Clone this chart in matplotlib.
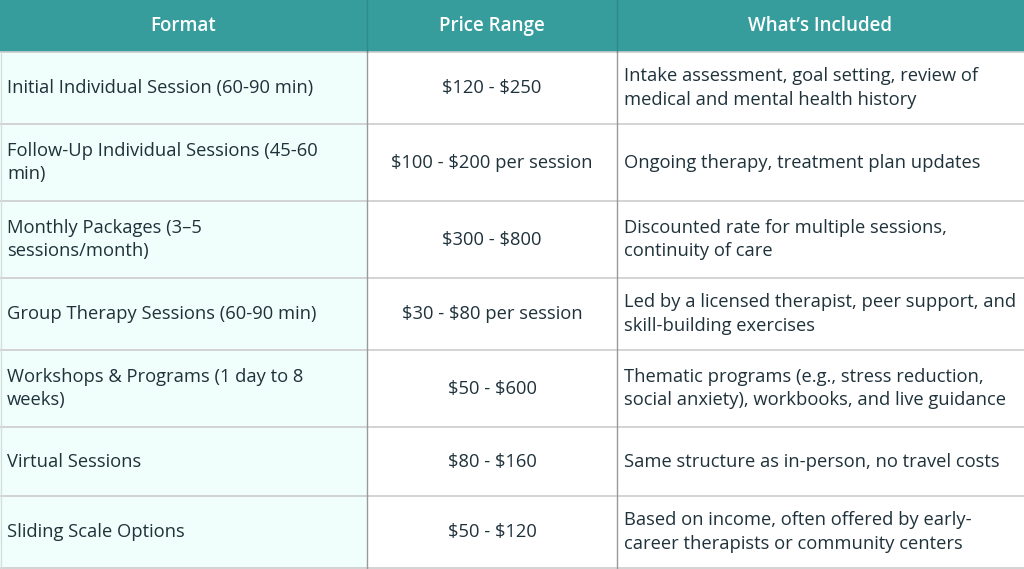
import matplotlib.pyplot as plt
from matplotlib.patches import Rectangle

headers = ["Format", "Price Range", "What\u2019s Included"]
formats = [
    "Initial Individual Session (60-90 min)",
    "Follow-Up Individual Sessions (45-60\nmin)",
    "Monthly Packages (3\u20135\nsessions/month)",
    "Group Therapy Sessions (60-90 min)",
    "Workshops & Programs (1 day to 8\nweeks)",
    "Virtual Sessions",
    "Sliding Scale Options",
]
prices = [
    "$120 - $250",
    "$100 - $200 per session",
    "$300 - $800",
    "$30 - $80 per session",
    "$50 - $600",
    "$80 - $160",
    "$50 - $120",
]
included = [
    "Intake assessment, goal setting, review of\nmedical and mental health history",
    "Ongoing therapy, treatment plan updates",
    "Discounted rate for multiple sessions,\ncontinuity of care",
    "Led by a licensed therapist, peer support, and\nskill-building exercises",
    "Thematic programs (e.g., stress reduction,\nsocial anxiety), workbooks, and live guidance",
    "Same structure as in-person, no travel costs",
    "Based on income, often offered by early-\ncareer therapists or community centers",
]

# layout in pixels
W, H = 1024, 569
col_x = [0, 367, 617, 1024]
row_y = [0, 52, 124, 201, 278, 350, 427, 496, 568]

teal = "#379c9c"
first_col_bg = "#f0fffc"
text_col = "#1f323b"
font = "Open Sans"
fs = 13.2
ls = 1.42

fig = plt.figure(figsize=(W / 100, H / 100), dpi=100)
ax = fig.add_axes([0, 0, 1, 1])
ax.set_xlim(0, W)
ax.set_ylim(H, 0)
ax.axis("off")

# header
ax.add_patch(Rectangle((0, row_y[0]), W, row_y[1] - row_y[0], color=teal, lw=0))
for j, h in enumerate(headers):
    ax.text((col_x[j] + col_x[j + 1]) / 2, (row_y[0] + row_y[1]) / 2, h,
            ha="center", va="center", color="white", fontsize=fs + 0.3,
            family=font, weight="semibold", parse_math=False)

# body
for i in range(len(formats)):
    y0, y1 = row_y[i + 1], row_y[i + 2]
    yc = (y0 + y1) / 2
    ax.add_patch(Rectangle((0, y0), col_x[1], y1 - y0, color=first_col_bg, lw=0))
    ax.text(col_x[0] + 7, yc, formats[i], ha="left", va="center", color=text_col,
            fontsize=fs, family=font, weight="medium", linespacing=ls, parse_math=False)
    ax.text((col_x[1] + col_x[2]) / 2, yc, prices[i], ha="center", va="center",
            color=text_col, fontsize=fs, family=font, weight="medium", parse_math=False)
    ax.text(col_x[2] + 7, yc, included[i], ha="left", va="center", color=text_col,
            fontsize=fs, family=font, weight="medium", linespacing=ls, parse_math=False)

# grid lines
for y in row_y[1:]:
    ax.plot([0, W], [y, y], color="#cccccc", lw=1.2, solid_capstyle="butt")
ax.plot([col_x[1], col_x[1]], [row_y[0], row_y[1]], color="#2f8a8a", lw=1.0)
ax.plot([col_x[2], col_x[2]], [row_y[0], row_y[1]], color="#2f8a8a", lw=1.0)
for x in col_x[1:3]:
    ax.plot([x, x], [row_y[1], row_y[-1]], color="#999999", lw=1.0)
ax.plot([0.5, 0.5], [row_y[1], row_y[-1]], color="#d5dede", lw=1.0)

fig.savefig("out.png", dpi=100)
